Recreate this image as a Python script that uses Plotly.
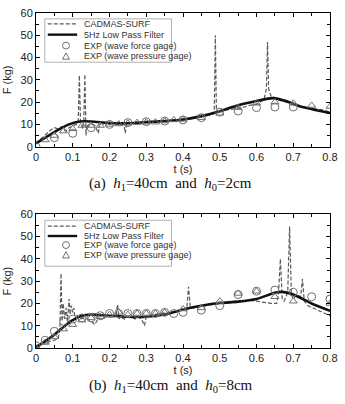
import plotly.graph_objects as go

# ---------------- Panel (a): h1=40cm, h0=2cm ----------------
cad_a_t = [0, 0.01, 0.02, 0.03, 0.04, 0.05, 0.06, 0.07, 0.08, 0.09,
           0.1, 0.11, 0.115, 0.118, 0.121, 0.124, 0.127, 0.13, 0.133, 0.136,
           0.139, 0.142, 0.15, 0.16, 0.17, 0.172, 0.175, 0.18, 0.19, 0.2,
           0.21, 0.22, 0.23, 0.24, 0.243, 0.246, 0.25, 0.26, 0.28, 0.3,
           0.32, 0.34, 0.36, 0.38, 0.4, 0.42, 0.44, 0.46, 0.47, 0.48,
           0.485, 0.488, 0.491, 0.494, 0.5, 0.51, 0.52, 0.54, 0.56, 0.58,
           0.6, 0.61, 0.62, 0.627, 0.63, 0.633, 0.636, 0.64, 0.65, 0.66,
           0.68, 0.7, 0.72, 0.74, 0.76, 0.78, 0.8]
cad_a_F = [1.5, 3, 4.5, 6, 7.5, 8.5, 8, 9, 7, 8.5,
           9.5, 10, 12, 32, 12, 10, 8, 12, 32.5, 5,
           10, 9, 10, 9.5, 6, 9.5, 10, 10, 10.5, 10,
           10.5, 10, 10.5, 9, 6, 10, 10.5, 10.5, 11, 11,
           11, 11.5, 11.5, 12, 12, 12.5, 13, 13.5, 14, 14.5,
           15, 50, 15, 15.5, 16, 16.5, 16.5, 17, 17.5, 18.5,
           19, 20, 21, 26, 47, 26, 24, 22.5, 22, 21,
           20, 19, 18, 17.5, 17, 16.5, 15.5]

lpf_a_t = [0, 0.03, 0.06, 0.09, 0.12, 0.15, 0.2, 0.25, 0.3, 0.35,
           0.4, 0.45, 0.5, 0.55, 0.6, 0.645, 0.68, 0.72, 0.76, 0.8]
lpf_a_F = [1.5, 4.5, 7.5, 10, 11.3, 11.3, 10.6, 10.5, 11, 11.5,
           12.2, 13.7, 15.9, 18.6, 20.5, 21.8, 20.5, 18, 16.5, 15.1]

force_a_t = [0, 0.05, 0.1, 0.15, 0.2, 0.25, 0.3, 0.35, 0.4, 0.45,
             0.5, 0.55, 0.6, 0.65, 0.7]
force_a_F = [0, 4, 6, 8.5, 10, 10.8, 11.2, 11.5, 12, 13,
             15.5, 16, 17.5, 17.8, 17.8]

press_a_t = [0.025, 0.05, 0.075, 0.1, 0.125, 0.15, 0.175, 0.2, 0.225, 0.25,
             0.275, 0.3, 0.325, 0.35, 0.375, 0.4, 0.45, 0.5, 0.55, 0.6,
             0.65, 0.7, 0.75, 0.8]
press_a_F = [3, 5, 7, 8, 9.5, 9.5, 9.5, 10, 10.2, 10.5,
             10.8, 11, 11, 11.5, 12, 12.2, 13, 15, 17.5, 19.5,
             20, 19.5, 18.5, 18]

# ---------------- Panel (b): h1=40cm, h0=8cm ----------------
cad_b_t = [0, 0.01, 0.02, 0.03, 0.04, 0.05, 0.06, 0.065, 0.068, 0.071,
           0.074, 0.078, 0.082, 0.086, 0.09, 0.093, 0.096, 0.1, 0.103, 0.106,
           0.11, 0.12, 0.13, 0.14, 0.15, 0.16, 0.17, 0.18, 0.19, 0.2,
           0.21, 0.218, 0.222, 0.226, 0.23, 0.24, 0.25, 0.26, 0.27, 0.28,
           0.29, 0.295, 0.3, 0.31, 0.32, 0.34, 0.36, 0.38, 0.4, 0.41,
           0.415, 0.42, 0.43, 0.44, 0.46, 0.48, 0.5, 0.52, 0.54, 0.56,
           0.58, 0.6, 0.62, 0.64, 0.655, 0.66, 0.665, 0.67, 0.675, 0.68,
           0.685, 0.69, 0.695, 0.7, 0.71, 0.72, 0.725, 0.73, 0.74, 0.76,
           0.78, 0.8]
cad_b_F = [0.5, 1, 2, 2.5, 3, 3.5, 4, 8, 33.5, 12,
           20, 13, 18, 12, 22, 15, 19, 16, 18, 13,
           15, 13, 13.5, 13, 12, 10.5, 13.5, 13, 14, 14,
           14, 15, 19.5, 13, 14, 13, 14, 14, 13, 14,
           12, 10, 14, 14.5, 15, 15.5, 16, 16.5, 17.5, 17,
           27.5, 18, 18, 18.5, 19, 19.5, 20, 20, 21, 21,
           21.5, 21, 20.5, 20, 20, 25, 40, 22, 21, 23,
           25, 54.5, 24, 22, 24, 23, 31, 21, 19, 17.5,
           16, 14.5]

lpf_b_t = [0, 0.025, 0.05, 0.075, 0.1, 0.125, 0.15, 0.2, 0.25, 0.3,
           0.35, 0.4, 0.45, 0.5, 0.55, 0.6, 0.65, 0.67, 0.7, 0.75, 0.8]
lpf_b_F = [0.5, 3, 6, 9.5, 12.5, 14.5, 15, 14.5, 14, 14,
           15, 17.3, 19, 20.2, 20.8, 22, 24.8, 25.2, 24, 20, 16.7]

force_b_t = [0, 0.025, 0.05, 0.075, 0.1, 0.125, 0.15, 0.175, 0.2, 0.225,
             0.25, 0.275, 0.3, 0.325, 0.35, 0.375, 0.4, 0.45, 0.5, 0.55,
             0.6, 0.65, 0.7, 0.75, 0.8]
force_b_F = [1, 3.5, 7.5, 12, 13, 13.5, 13.5, 14.5, 15.5, 15.5,
             15.5, 15.5, 15.5, 15.5, 16, 15.5, 16, 17, 19, 24,
             25.5, 26, 25, 23, 22]

press_b_t = [0, 0.025, 0.05, 0.075, 0.1, 0.125, 0.15, 0.175, 0.2, 0.225,
             0.25, 0.275, 0.3, 0.325, 0.35, 0.4, 0.45, 0.5, 0.55, 0.6,
             0.65, 0.7, 0.8]
press_b_F = [0, 2.5, 5, 8.5, 10.5, 12.5, 13.5, 14, 15, 16,
             15, 15.5, 15.5, 15.5, 16, 17.5, 18, 21, 24.5, 25.5,
             23, 21, 20]

legend_labels = ["CADMAS-SURF", "5Hz Low Pass Filter",
                 "EXP (wave force gage)", "EXP (wave pressure gage)"]
captions = ["(a)  <i>h</i><sub>1</sub>=40cm  and  <i>h</i><sub>0</sub>=2cm",
            "(b)  <i>h</i><sub>1</sub>=40cm  and  <i>h</i><sub>0</sub>=8cm"]
x_ticks = [0, 0.1, 0.2, 0.3, 0.4, 0.5, 0.6, 0.7, 0.8]
y_ticks = [0, 10, 20, 30, 40, 50, 60]

DASH_COL = "#5a5a5a"
MARK_COL = "#707070"

fig = go.Figure()

panels = [
    ("x", "y", cad_a_t, cad_a_F, lpf_a_t, lpf_a_F, force_a_t, force_a_F, press_a_t, press_a_F),
    ("x2", "y2", cad_b_t, cad_b_F, lpf_b_t, lpf_b_F, force_b_t, force_b_F, press_b_t, press_b_F),
]
for xa, ya, ct, cf, lt, lf, ft, ff, pt, pf in panels:
    fig.add_trace(go.Scatter(x=ct, y=cf, mode="lines", xaxis=xa, yaxis=ya,
                             line=dict(color=DASH_COL, width=1.2, dash="4px,2px"),
                             showlegend=False))
    fig.add_trace(go.Scatter(x=lt, y=lf, mode="lines", xaxis=xa, yaxis=ya,
                             line=dict(color="#111111", width=2.6, shape="spline", smoothing=0.7),
                             showlegend=False))
    fig.add_trace(go.Scatter(x=ft, y=ff, mode="markers", xaxis=xa, yaxis=ya,
                             marker=dict(symbol="circle-open", size=8, color=MARK_COL,
                                         line=dict(width=1, color=MARK_COL)),
                             showlegend=False))
    fig.add_trace(go.Scatter(x=pt, y=pf, mode="markers", xaxis=xa, yaxis=ya,
                             marker=dict(symbol="triangle-up-open", size=7, color=MARK_COL,
                                         line=dict(width=1, color=MARK_COL)),
                             showlegend=False))

tick_font = dict(family="Liberation Sans, Arial, sans-serif", size=11, color="#222222")

def xaxis_cfg(anchor):
    return dict(range=[0, 0.8], tickvals=x_ticks, ticktext=[("%g" % v) for v in x_ticks],
                ticks="inside", ticklen=4, tickcolor="#000", mirror="ticks",
                showline=True, linecolor="#000", linewidth=1, showgrid=False, zeroline=False,
                minor=dict(dtick=0.05, tick0=0, ticks="inside", ticklen=3, tickcolor="#000"),
                tickfont=tick_font, anchor=anchor,
                title=dict(text="t (s)", font=tick_font, standoff=0))

def yaxis_cfg(anchor, domain):
    return dict(range=[0, 60], tickvals=y_ticks, domain=domain,
                ticks="inside", ticklen=4, tickcolor="#000", mirror="ticks",
                showline=True, linecolor="#000", linewidth=1, showgrid=False, zeroline=False,
                minor=dict(dtick=5, tick0=0, ticks="inside", ticklen=3, tickcolor="#000"),
                tickfont=tick_font, anchor=anchor,
                title=dict(text="F (kg)", font=tick_font, standoff=6))

fig.update_layout(
    width=345, height=404,
    margin=dict(l=36, r=12, t=7, b=56),
    paper_bgcolor="white", plot_bgcolor="white",
    showlegend=False,
    xaxis=xaxis_cfg("y"),
    yaxis=yaxis_cfg("x", [0.601, 1.0]),
    xaxis2=xaxis_cfg("y2"),
    yaxis2=yaxis_cfg("x2", [0.0, 0.399]),
)

# Manual legends (one box per panel); plot area is 297 x 136 px
leg_font = dict(family="Liberation Sans, Arial, sans-serif", size=9, color="#333333")
legend_specs = [
    ("x domain", "y domain", 0.632, 0.956, [0.919, 0.838, 0.756, 0.678]),
    ("x2 domain", "y2 domain", 0.612, 0.956, [0.912, 0.838, 0.770, 0.697]),
]
PW, PH = 297.0, 136.0
mx = 0.102
for xr, yr, yb, yt, rows in legend_specs:
    fig.add_shape(type="rect", xref=xr, yref=yr, x0=0.03, x1=0.461, y0=yb, y1=yt,
                  line=dict(color="#b0b0b0", width=1), fillcolor="white", layer="above")
    fig.add_shape(type="line", xref=xr, yref=yr, x0=0.04, x1=0.14, y0=rows[0], y1=rows[0],
                  line=dict(color=DASH_COL, width=1.2, dash="4px,2px"), layer="above")
    fig.add_shape(type="line", xref=xr, yref=yr, x0=0.04, x1=0.14, y0=rows[1], y1=rows[1],
                  line=dict(color="#111111", width=2.4), layer="above")
    # circle symbol (radius 3.5 px)
    rx, ry = 3.5 / PW, 3.5 / PH
    fig.add_shape(type="circle", xref=xr, yref=yr, x0=mx - rx, x1=mx + rx,
                  y0=rows[2] - ry, y1=rows[2] + ry,
                  line=dict(color=MARK_COL, width=1), layer="above")
    # triangle symbol
    tx, ty = 3.5 / PW, 3.2 / PH
    yc = rows[3]
    fig.add_shape(type="path", xref=xr, yref=yr,
                  path="M %f,%f L %f,%f L %f,%f Z" % (mx - tx, yc - ty, mx + tx, yc - ty, mx, yc + ty),
                  line=dict(color=MARK_COL, width=1), layer="above")
    for lab, yy in zip(legend_labels, rows):
        fig.add_annotation(xref=xr, yref=yr, x=0.155, y=yy, text=lab, showarrow=False,
                           xanchor="left", yanchor="middle", font=leg_font)

cap_font = dict(family="Liberation Serif, Times New Roman, serif", size=15, color="#111111")
fig.add_annotation(xref="paper", yref="paper", x=0.458, y=0.49, text=captions[0],
                   showarrow=False, font=cap_font, yanchor="middle")
fig.add_annotation(xref="paper", yref="paper", x=0.458, y=-0.114, text=captions[1],
                   showarrow=False, font=cap_font, yanchor="middle")

fig.write_html("out.html")
